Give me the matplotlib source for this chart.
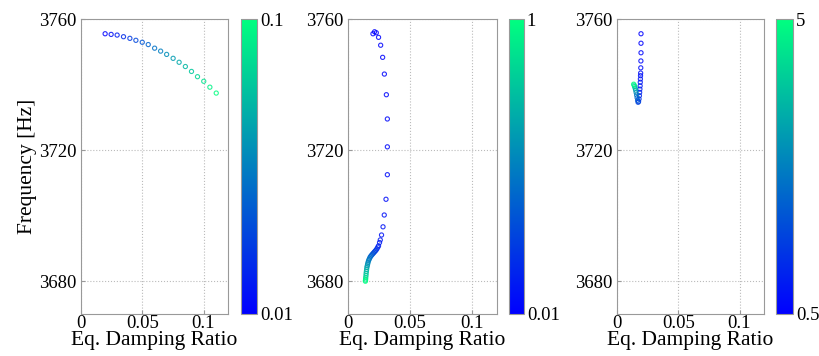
import matplotlib
matplotlib.use("Agg")
import matplotlib.pyplot as plt
from matplotlib import cm, colors

plt.rcParams['font.family'] = ['Liberation Serif', 'DejaVu Serif']

# ── 数据 ───────────────────────────────────
# 面板 1
damp1 = [0.0197, 0.0246, 0.0295, 0.0347, 0.0399, 0.0448, 0.0500, 0.0549, 0.0601, 0.0650,
         0.0699, 0.0752, 0.0801, 0.0852, 0.0902, 0.0951, 0.1002, 0.1052, 0.1104]
freq1 = [3755.5, 3755.3, 3755.1, 3754.6, 3754.1, 3753.5, 3752.9, 3752.2, 3751.1, 3750.2,
         3749.2, 3748.0, 3746.8, 3745.5, 3744.0, 3742.4, 3741.0, 3739.2, 3737.4]
col1 = [0.010, 0.015, 0.020, 0.025, 0.030, 0.035, 0.040, 0.045, 0.050, 0.055,
        0.060, 0.065, 0.070, 0.075, 0.080, 0.085, 0.090, 0.095, 0.100]

# 面板 2
damp2 = [0.0201, 0.0214, 0.0228, 0.0246, 0.0263, 0.0279, 0.0293, 0.0309, 0.0317, 0.0317,
         0.0317, 0.0306, 0.0292, 0.0282, 0.0270, 0.0260, 0.0254, 0.0246,
         0.0240, 0.0233, 0.0226, 0.0219, 0.0212, 0.0205, 0.0198, 0.0191, 0.0185, 0.0179,
         0.0174, 0.0169, 0.0165, 0.0161, 0.0158, 0.0155, 0.0152, 0.0150, 0.0148, 0.0146,
         0.0145, 0.0143, 0.0142, 0.0141, 0.0140]
freq2 = [3755.5, 3756.1, 3755.8, 3754.4, 3752.0, 3748.3, 3743.2, 3736.9, 3729.5, 3721.0,
         3712.5, 3705.0, 3700.2, 3696.6, 3694.1, 3692.6, 3691.8, 3690.8,
         3690.4, 3689.9, 3689.5, 3689.2, 3688.9, 3688.6, 3688.3, 3688.0, 3687.7, 3687.4,
         3687.0, 3686.6, 3686.2, 3685.7, 3685.2, 3684.7, 3684.2, 3683.6, 3683.0, 3682.4,
         3681.8, 3681.2, 3680.7, 3680.3, 3680.0]
col2 = [0.010, 0.012, 0.015, 0.018, 0.021, 0.025, 0.029, 0.034, 0.040, 0.046,
        0.053, 0.061, 0.070, 0.080, 0.090, 0.100, 0.110, 0.125,
        0.14, 0.17, 0.20, 0.23, 0.26, 0.29, 0.32, 0.35, 0.38, 0.41,
        0.44, 0.47, 0.50, 0.53, 0.56, 0.60, 0.64, 0.68, 0.72, 0.76,
        0.80, 0.85, 0.90, 0.95, 1.00]

# 面板 3
damp3 = [0.0196, 0.0196, 0.0196, 0.0195, 0.0194, 0.0193, 0.0192, 0.0191, 0.0190, 0.0189,
         0.0187, 0.0185, 0.0183, 0.0180, 0.0176, 0.0172,
         0.0168, 0.0164, 0.0160, 0.0156, 0.0152, 0.0148, 0.0144, 0.0140, 0.0136]
freq3 = [3755.5, 3752.6, 3749.7, 3747.2, 3745.1, 3743.5, 3742.7, 3741.7, 3740.7, 3739.6,
         3738.6, 3737.6, 3736.6, 3735.6, 3734.8, 3734.6,
         3735.2, 3736.0, 3736.8, 3737.6, 3738.3, 3738.9, 3739.4, 3739.8, 3740.1]
col3 = [0.50, 0.55, 0.60, 0.65, 0.70, 0.75, 0.80, 0.85, 0.90, 0.95,
        1.00, 1.10, 1.20, 1.35, 1.50, 1.70,
        2.00, 2.30, 2.60, 2.90, 3.25, 3.60, 4.00, 4.50, 5.00]

panels = [
    (damp1, freq1, col1, 0.01, 0.1, ['0.01', '0.1']),
    (damp2, freq2, col2, 0.01, 1.0, ['0.01', '1']),
    (damp3, freq3, col3, 0.5, 5.0, ['0.5', '5']),
]

# ── 版面（像素换算成图坐标） ──────────────────────
W, H = 819, 356
ax_px = [(81, 147), (348, 149), (617, 147)]
cb_px = [(241, 16), (509, 15), (776, 17)]
bottom, top = 314, 19

fig = plt.figure(figsize=(W / 100, H / 100), dpi=100)
grey = '#999999'
cmap = plt.get_cmap('winter')

for i, (d, f, c, cmin, cmax, clabels) in enumerate(panels):
    x0, w = ax_px[i]
    ax = fig.add_axes([x0 / W, (H - bottom) / H, w / W, (bottom - top) / H])
    norm = colors.Normalize(vmin=cmin, vmax=cmax)
    edge = cmap(norm(c))
    # 空心圆圈，边框按参数着色
    ax.scatter(d, f, s=9, facecolors='none', edgecolors=edge,
               linewidths=0.8, alpha=0.85, zorder=3)
    ax.set_xlim(0, 0.12)
    ax.set_ylim(3670, 3760)
    ax.set_xticks([0, 0.05, 0.1])
    ax.set_xticklabels(['0', '0.05', '0.1'])
    ax.set_yticks([3680, 3720, 3760])
    ax.grid(True, linestyle=':', color='#bbbbbb', linewidth=0.8)
    ax.tick_params(direction='in', length=3, color=grey, labelsize=13.5)
    ax.tick_params(axis='x', pad=1)
    ax.tick_params(axis='y', pad=3)
    for sp in ax.spines.values():
        sp.set_color(grey)
    ax.set_xlabel('Eq. Damping Ratio', fontsize=15.5, labelpad=-1)
    if i == 0:
        ax.set_ylabel('Frequency [Hz]', fontsize=15.5, labelpad=2)

    cx, cw = cb_px[i]
    cax = fig.add_axes([cx / W, (H - bottom) / H, cw / W, (bottom - top) / H])
    sm = cm.ScalarMappable(norm=norm, cmap=cmap)
    cb = fig.colorbar(sm, cax=cax)
    cb.set_ticks([cmin, cmax])
    cb.set_ticklabels(clabels)
    cb.outline.set_edgecolor(grey)
    cax.tick_params(length=0, labelsize=13.5, pad=2)

fig.savefig('out.png', dpi=100)
